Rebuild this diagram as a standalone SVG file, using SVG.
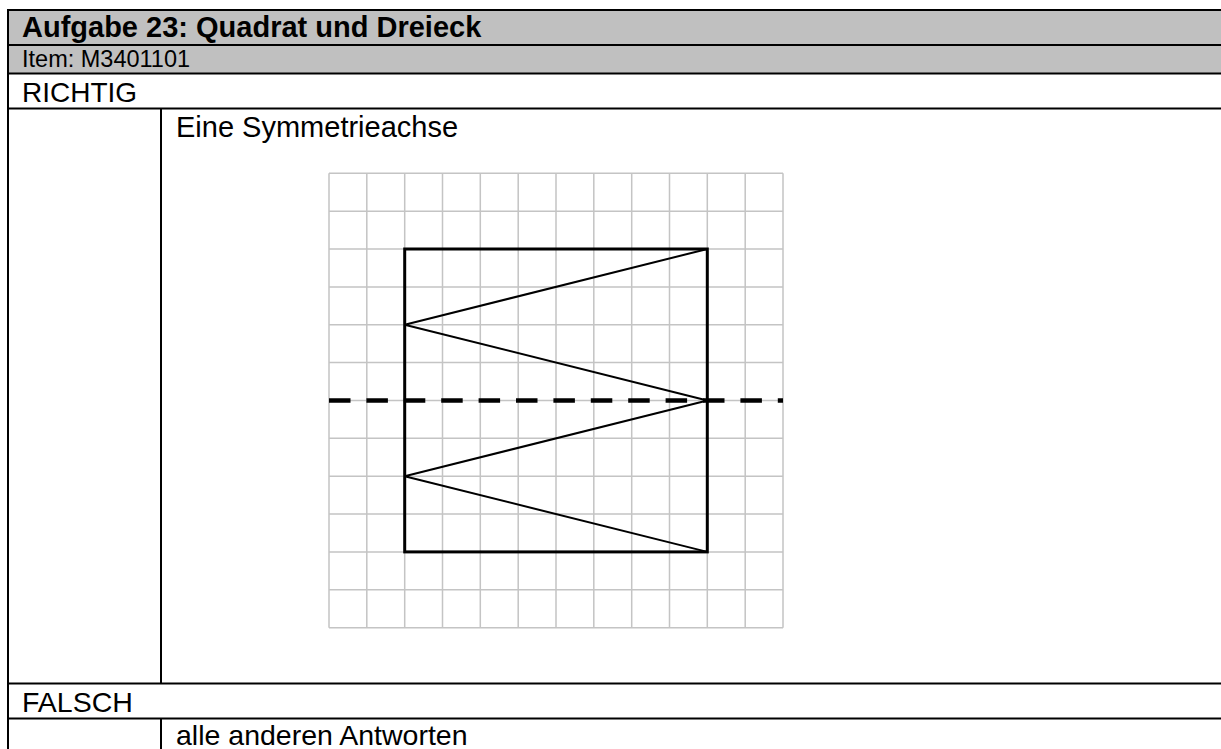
<svg xmlns="http://www.w3.org/2000/svg" width="1221" height="749" viewBox="0 0 1221 749">
<style>
.t{font-family:"Liberation Sans",Arial,sans-serif;fill:#000}
.b{font-weight:bold}
.tl{stroke:#000;stroke-width:2;fill:none}
.g{stroke:#c4c4c4;stroke-width:1.5;fill:none}
.sq{stroke:#000;stroke-width:3;fill:none}
.tri{stroke:#000;stroke-width:2;fill:none;stroke-linejoin:miter}
</style>
<rect width="1221" height="749" fill="#fff"/>
<g id="table">
<rect x="8" y="10" width="1213" height="63.5" fill="#c0c0c0"/>
<line class="tl" x1="7" y1="10" x2="1221" y2="10"/>
<line class="tl" x1="8" y1="45" x2="1221" y2="45"/>
<line class="tl" x1="8" y1="73.5" x2="1221" y2="73.5"/>
<line class="tl" x1="8" y1="108.5" x2="1221" y2="108.5"/>
<line class="tl" x1="8" y1="683.5" x2="1221" y2="683.5"/>
<line class="tl" x1="8" y1="718.5" x2="1221" y2="718.5"/>
<line class="tl" x1="8" y1="9" x2="8" y2="749"/>
<line class="tl" x1="161" y1="108.5" x2="161" y2="683.5"/>
<line class="tl" x1="161" y1="718.5" x2="161" y2="749"/>
</g>
<g id="labels">
<text class="t b" x="22" y="37" font-size="29">Aufgabe 23: Quadrat und Dreieck</text>
<text class="t" x="22" y="66.5" font-size="23.5">Item: M3401101</text>
<text class="t" x="22" y="101.5" font-size="28">RICHTIG</text>
<text class="t" x="176" y="137" font-size="29">Eine Symmetrieachse</text>
<text class="t" x="22" y="711.5" font-size="28.5">FALSCH</text>
<text class="t" x="176" y="745" font-size="28.5">alle anderen Antworten</text>
</g>
<g id="grid">
<path class="g" d="M329 173.3V627.7M366.8 173.3V627.7M404.7 173.3V627.7M442.5 173.3V627.7M480.3 173.3V627.7M518.2 173.3V627.7M556 173.3V627.7M593.8 173.3V627.7M631.7 173.3V627.7M669.5 173.3V627.7M707.3 173.3V627.7M745.2 173.3V627.7M783 173.3V627.7"/>
<path class="g" d="M329 173.3H783M329 211.2H783M329 249H783M329 286.9H783M329 324.7H783M329 362.6H783M329 400.5H783M329 438.3H783M329 476.2H783M329 514H783M329 551.9H783M329 589.8H783M329 627.7H783"/>
</g>
<g id="square">
<rect class="sq" x="404.7" y="249" width="302.6" height="302.9"/>
</g>
<g id="triangles">
<polyline class="tri" points="707.3,249 404.7,324.7 707.3,400.5"/>
<polyline class="tri" points="707.3,400.5 404.7,476.2 707.3,551.9"/>
</g>
<g id="axis">
<line x1="329" y1="400.5" x2="783" y2="400.5" stroke="#000" stroke-width="4.5" stroke-dasharray="21.5 15.9"/>
</g>
</svg>
